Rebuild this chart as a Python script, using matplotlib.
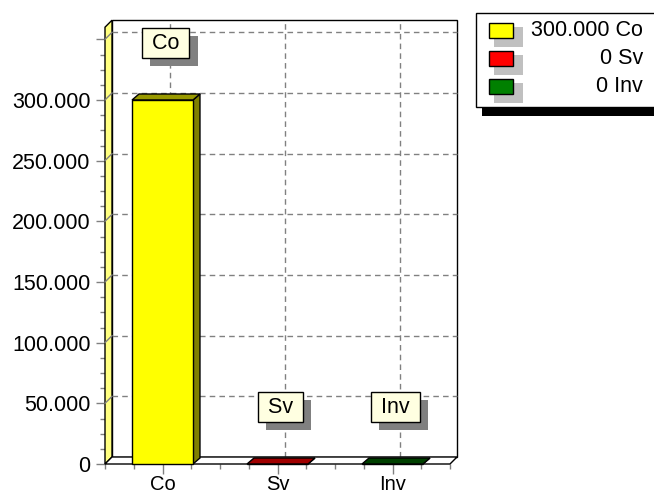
import matplotlib
matplotlib.use('Agg')
import matplotlib.pyplot as plt
import matplotlib.patheffects as pe
from matplotlib.patches import Polygon, Rectangle
from matplotlib.ticker import MultipleLocator

# data
categories = ['Co', 'Sv', 'Inv']
values = [300000, 0, 0]
bar_colors = ['#ffff00', '#ff0000', '#008000']
top_colors = ['#999900', '#a00000', '#004000']
side_colors = ['#808000', '#800000', '#003000']
legend_labels = ['300.000 Co', '0 Sv', '0 Inv']
yticks = [0, 50000, 100000, 150000, 200000, 250000, 300000, 350000]
ytick_labels = ['0', '50.000', '100.000', '150.000', '200.000', '250.000', '300.000', '']
ymax = 360000

plt.rcParams['font.family'] = ['Liberation Sans', 'DejaVu Sans']
FS = 15.5
GRID = '#808080'

fig = plt.figure(figsize=(6.54, 4.98), dpi=100)
ax = fig.add_axes([105 / 654, 34 / 498, 345 / 654, 436.8 / 498])
ax.set_xlim(-0.5, 2.5)
ax.set_ylim(0, ymax)
ax.patch.set_visible(False)
for s in ax.spines.values():
    s.set_visible(False)


def px2data(px, py):
    # pixel offset -> data offset (for the fake 3d depth)
    inv = ax.transData.inverted()
    x0, y0 = inv.transform((0, 0))
    x1, y1 = inv.transform((px, py))
    return x1 - x0, y1 - y0


wx, wy = px2data(7, 7)
bx, by = px2data(7, 6)

# back wall
ax.add_patch(Rectangle((-0.5 + wx, wy), 3, ymax, fc='white', ec='black',
                       lw=1, clip_on=False, zorder=0))
# grid on the back wall + left wall
for y in yticks[1:]:
    ax.plot([-0.5 + wx, 2.5 + wx], [y + wy, y + wy], color=GRID, lw=1,
            ls=(0, (4, 3)), clip_on=False, zorder=1)
    ax.plot([-0.5, -0.5 + wx], [y, y + wy], color=GRID, lw=1,
            clip_on=False, zorder=2.5)
for i in range(len(categories)):
    ax.plot([i + wx, i + wx], [wy, ymax + wy], color=GRID, lw=1,
            ls=(0, (4, 3)), clip_on=False, zorder=1)

# left wall and floor
ax.add_patch(Polygon([(-0.5, 0), (-0.5 + wx, wy), (-0.5 + wx, ymax + wy), (-0.5, ymax)],
                     closed=True, fc='#ffff80', ec='black', lw=1, clip_on=False, zorder=2))
ax.add_patch(Polygon([(-0.5, 0), (2.5, 0), (2.5 + wx, wy), (-0.5 + wx, wy)],
                     closed=True, fc='white', ec='black', lw=1, clip_on=False, zorder=2))

# bars
width = 0.53
xs = list(range(len(categories)))
ax.bar(xs, values, width=width, color=bar_colors, edgecolor='black', lw=1,
       clip_on=False, zorder=4)
for x, v, tc, sc in zip(xs, values, top_colors, side_colors):
    l, r = x - width / 2, x + width / 2
    ax.add_patch(Polygon([(r, 0), (r + bx, by), (r + bx, v + by), (r, v)], closed=True,
                         fc=sc, ec='black', lw=1, clip_on=False, zorder=3))
    ax.add_patch(Polygon([(l, v), (r, v), (r + bx, v + by), (l + bx, v + by)], closed=True,
                         fc=tc, ec='black', lw=1, clip_on=False, zorder=3))

# value labels, box gets a grey drop shadow
for x, v, c in zip(xs, values, categories):
    t = ax.annotate(' %s ' % c, xy=(x, v), xytext=(3, 57), textcoords='offset pixels',
                    ha='center', va='center', fontsize=FS, color='black', zorder=6,
                    bbox=dict(boxstyle='square,pad=0.2', fc='#ffffe1', ec='black', lw=1))
    t.get_bbox_patch().set_path_effects([
        pe.SimplePatchShadow(offset=(5.8, -5.8), shadow_rgbFace=GRID, alpha=1.0),
        pe.Normal()])

# ticks
ax.set_xticks(xs, categories)
ax.xaxis.set_minor_locator(MultipleLocator(0.25))
ax.set_yticks(yticks, ytick_labels)
ax.yaxis.set_minor_locator(MultipleLocator(12500))
ax.tick_params(which='both', color=GRID, width=1, direction='out', labelsize=FS)
ax.tick_params(axis='y', which='major', length=6.5, pad=4)
ax.tick_params(axis='y', which='minor', length=3.6)
ax.tick_params(axis='x', which='major', length=7, pad=1, labelsize=14.5)
ax.tick_params(axis='x', which='minor', length=3.6)

# legend drawn in pixel space
lax = fig.add_axes([0, 0, 1, 1], zorder=10)
lax.set_xlim(0, 654)
lax.set_ylim(498, 0)
lax.axis('off')
lax.add_patch(Rectangle((482, 22), 250, 94, fc='black', ec='none'))
lax.add_patch(Rectangle((476, 13), 250, 94, fc='white', ec='black', lw=1))
for i, (lab, c) in enumerate(zip(legend_labels, bar_colors)):
    yc = 30 + 28 * i
    lax.add_patch(Rectangle((494, yc - 3), 29, 20, fc='#c0c0c0', ec='none'))
    lax.add_patch(Rectangle((489, yc - 7.5), 24, 15, fc=c, ec='black', lw=1))
    lax.text(643, yc, lab, ha='right', va='center', fontsize=FS)

fig.savefig('out.png', dpi=100)
